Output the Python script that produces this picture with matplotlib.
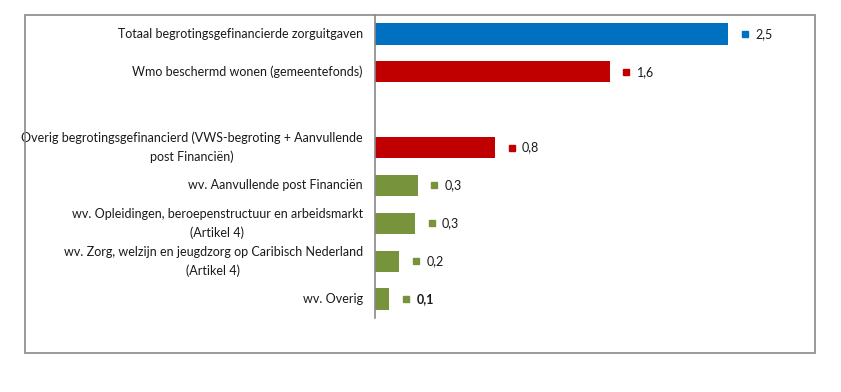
import matplotlib.pyplot as plt
from matplotlib.patches import Rectangle

plt.rcParams['font.family'] = ['Lato', 'DejaVu Sans']

# categories top to bottom; empty string = gap row
categories = [
    'Totaal begrotingsgefinancierde zorguitgaven',
    'Wmo beschermd wonen (gemeentefonds)',
    '',
    'Overig begrotingsgefinancierd (VWS-begroting + Aanvullende\npost Financiën)',
    'wv. Aanvullende post Financiën',
    'wv. Opleidingen, beroepenstructuur en arbeidsmarkt\n(Artikel 4)',
    'wv. Zorg, welzijn en jeugdzorg op Caribisch Nederland\n(Artikel 4)',
    'wv. Overig',
]
values = [2.47, 1.64, None, 0.84, 0.30, 0.28, 0.17, 0.10]
labels = ['2,5', '1,6', '', '0,8', '0,3', '0,3', '0,2', '0,1']
colors = ['#0070C0', '#C00000', None, '#C00000', '#77933C', '#77933C', '#77933C', '#77933C']

W, H = 841, 392
fig = plt.figure(figsize=(W / 100, H / 100), dpi=100)

# outer chart border
fig.patches.append(Rectangle((25 / W, 1 - 353 / H), 790 / W, 338 / H,
                             transform=fig.transFigure, fill=False,
                             edgecolor='#898989', linewidth=1.2))

ax = fig.add_axes([375 / W, 1 - 318 / H, 429 / W, 303 / H])
ax.set_xlim(0, 3.0)
ax.set_ylim(len(categories) - 0.5, -0.5)

for i, (cat, v, lab, c) in enumerate(zip(categories, values, labels, colors)):
    ax.text(-0.085, i, cat, ha='right', va='center', multialignment='center',
            fontsize=9, color='#1a1a1a', linespacing=1.6,
            transform=ax.transData, clip_on=False)
    if v is None:
        continue
    ax.barh(i, v, height=0.56, color=c)
    ax.plot(v + 16.5 / 143, i, marker='s', markersize=5, color=c, clip_on=False)
    ax.annotate(lab, (v, i), xytext=(27 * 0.72, 0), textcoords='offset points',
                ha='left', va='center', fontsize=9, color='#1a1a1a',
                fontweight='bold' if i == len(categories) - 1 else 'normal')

for s in ['top', 'right', 'bottom']:
    ax.spines[s].set_visible(False)
ax.spines['left'].set_color('#898989')
ax.spines['left'].set_linewidth(1.2)
ax.set_xticks([])
ax.set_yticks([])

fig.savefig('out.png', dpi=100)
